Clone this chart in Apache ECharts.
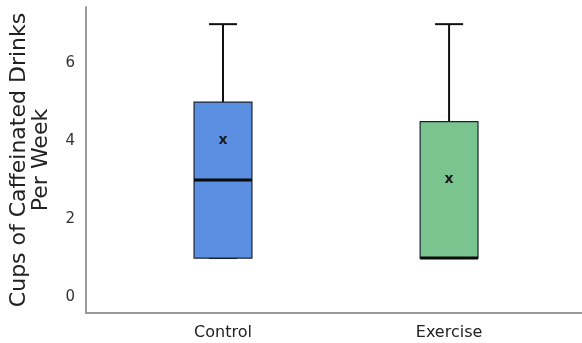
<!DOCTYPE html>
<html>
<head>
<meta charset="utf-8">
<script src="https://cdn.jsdelivr.net/npm/echarts@6/dist/echarts.min.js"></script>
<style>
  html, body { margin: 0; padding: 0; background: #fff; }
  #chart { width: 582px; height: 343px; }
</style>
</head>
<body>
<div id="chart"></div>
<script>
// Group labels and five-number summaries (plus mean) per group
const categories = ['Control', 'Exercise'];
const minValues = [1, 1];
const q1Values = [1, 1];
const medianValues = [3, 1];
const q3Values = [5, 4.5];
const maxValues = [7, 7];
const meanValues = [4.05, 3.05];
const yTicks = [0, 2, 4, 6];

const boxColors = ['#5b8fe2', '#79c48f'];

const rows = categories.map((c, i) => [i, minValues[i], q1Values[i], medianValues[i], q3Values[i], maxValues[i], meanValues[i]]);

function renderBox(params, api) {
  const x = api.value(0);
  const unit = api.size([1, 0])[0];
  const half = unit * 0.128;
  const capHalf = unit * 0.062;
  const pMin = api.coord([x, api.value(1)]);
  const pQ1 = api.coord([x, api.value(2)]);
  const pMed = api.coord([x, api.value(3)]);
  const pQ3 = api.coord([x, api.value(4)]);
  const pMax = api.coord([x, api.value(5)]);
  const pMean = api.coord([x, api.value(6)]);
  const cx = pQ1[0];
  const line = { stroke: '#111', lineWidth: 2 };
  const children = [
    { type: 'line', shape: { x1: cx, y1: pQ3[1], x2: cx, y2: pMax[1] }, style: line },
    { type: 'line', shape: { x1: cx - capHalf, y1: pMax[1], x2: cx + capHalf, y2: pMax[1] }, style: line },
    { type: 'line', shape: { x1: cx, y1: pQ1[1], x2: cx, y2: pMin[1] }, style: line },
    { type: 'line', shape: { x1: cx - capHalf, y1: pMin[1], x2: cx + capHalf, y2: pMin[1] }, style: line },
    { type: 'rect', shape: { x: cx - half, y: pQ3[1], width: half * 2, height: pQ1[1] - pQ3[1] },
      style: { fill: boxColors[params.dataIndex], stroke: '#1c2430', lineWidth: 1.2 } },
    { type: 'line', shape: { x1: cx - half, y1: pMed[1], x2: cx + half, y2: pMed[1] },
      style: { stroke: '#0a0a0a', lineWidth: 3 } },
    { type: 'text', x: pMean[0], y: pMean[1] + 1,
      style: { text: 'x', fill: '#1a1a1a', font: 'bold 14px "DejaVu Sans"', align: 'center', verticalAlign: 'middle' } }
  ];
  return { type: 'group', children: children };
}

const chart = echarts.init(document.getElementById('chart'), null, { renderer: 'canvas' });
chart.setOption({
  animation: false,
  grid: { left: 86, right: 0, top: 7, bottom: 30 },
  xAxis: {
    type: 'value',
    min: -0.606,
    max: 1.588,
    splitLine: { show: false },
    axisLine: { show: true, onZero: false, lineStyle: { color: '#9a9a9a', width: 2 } },
    axisTick: { show: false },
    axisLabel: {
      customValues: categories.map((c, i) => i),
      formatter: v => categories[Math.round(v)] || '',
      color: '#222',
      fontFamily: 'DejaVu Sans',
      fontSize: 16,
      margin: 12
    }
  },
  yAxis: {
    type: 'value',
    min: -0.41,
    max: 7.44,
    name: 'Cups of Caffeinated Drinks\nPer Week',
    nameLocation: 'middle',
    nameGap: 34,
    nameTextStyle: { color: '#222', fontFamily: 'DejaVu Sans', fontSize: 22, lineHeight: 22 },
    splitLine: { show: false },
    axisLine: { show: true, onZero: false, lineStyle: { color: '#9a9a9a', width: 2 } },
    axisTick: { show: false },
    axisLabel: {
      customValues: yTicks,
      color: '#333',
      fontFamily: 'DejaVu Sans',
      fontSize: 15,
      margin: 11
    }
  },
  series: [{
    type: 'custom',
    renderItem: renderBox,
    encode: { x: 0, y: [1, 2, 3, 4, 5, 6] },
    data: rows
  }]
});
</script>
</body>
</html>
